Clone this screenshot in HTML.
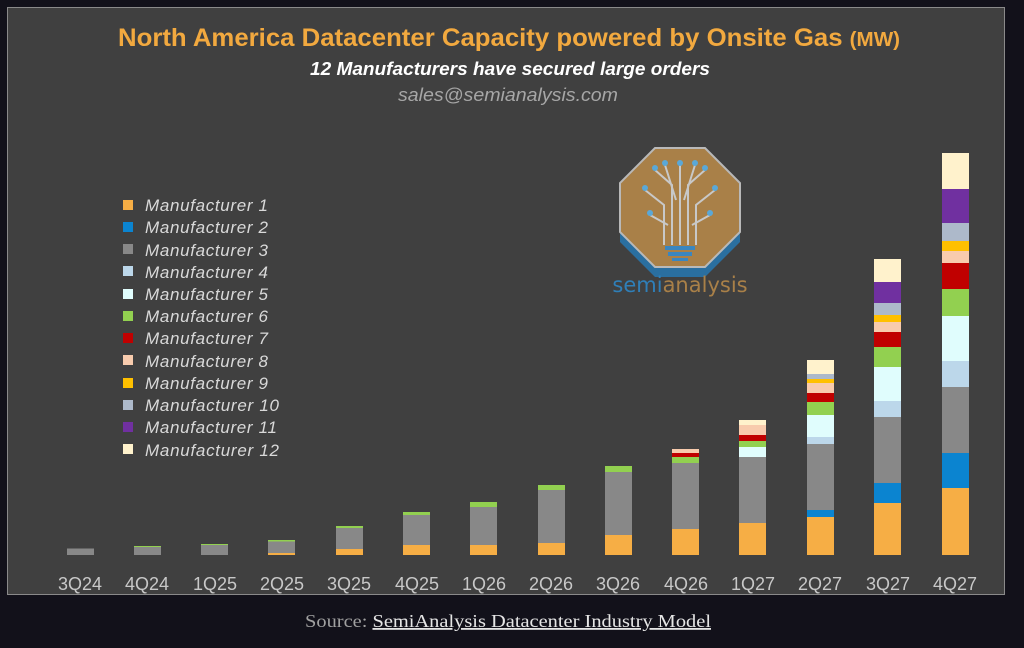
<!DOCTYPE html>
<html><head><meta charset="utf-8"><style>
body{margin:0;background:#12111a;width:1024px;height:643px;overflow:hidden;font-family:"Liberation Sans",sans-serif}
</style></head><body>
<svg width="1024" height="643" xmlns="http://www.w3.org/2000/svg">
<rect x="0" y="0" width="1024" height="643" fill="#12111a"/>
<rect x="7.5" y="7.5" width="997" height="587" fill="#404040" stroke="#8a8a8a" stroke-width="1"/>
<text x="118" y="46" textLength="782" lengthAdjust="spacingAndGlyphs" font-size="25" font-weight="bold" fill="#f2a93f">North America Datacenter Capacity powered by Onsite Gas <tspan font-size="20">(MW)</tspan></text>
<text x="310" y="75" textLength="400" lengthAdjust="spacingAndGlyphs" font-size="18" font-weight="bold" font-style="italic" fill="#ffffff">12 Manufacturers have secured large orders</text>
<text x="398" y="101" textLength="220" lengthAdjust="spacingAndGlyphs" font-size="18" font-style="italic" fill="#a6a6a6">sales@semianalysis.com</text>
<g>
<polygon points="655,155 705,155 740,190 740,242 705,277 655,277 620,242 620,190" fill="#2a6fa0"/>
<polygon points="655,148 705,148 740,183 740,232 705,267 655,267 620,232 620,183" fill="#a98048" stroke="#b9b9b9" stroke-width="2"/>
<g stroke="#c8c8c8" stroke-width="2" fill="none">
<path d="M680 245 V165 M672 245 V185 L655 170 M688 245 V185 L705 170 M664 245 V205 L645 190 M696 245 V205 L715 190 M668 225 L650 215 M692 225 L710 215 M676 200 L665 165 M684 200 L695 165"/>
</g>
<g fill="#5aa8d8"><circle cx="680" cy="163" r="3"/><circle cx="655" cy="168" r="3"/><circle cx="705" cy="168" r="3"/><circle cx="645" cy="188" r="3"/><circle cx="715" cy="188" r="3"/><circle cx="650" cy="213" r="3"/><circle cx="710" cy="213" r="3"/><circle cx="665" cy="163" r="3"/><circle cx="695" cy="163" r="3"/></g>
<rect x="665" y="246" width="30" height="4" fill="#3a86c0"/><rect x="668" y="252" width="24" height="4" fill="#3a86c0"/><rect x="672" y="258" width="16" height="3" fill="#3a86c0"/>
<text x="680" y="292" text-anchor="middle" font-size="21" font-family="DejaVu Sans, sans-serif" fill="#a98048"><tspan fill="#2f7fb8">semi</tspan>analysis</text>
</g>
<g font-size="17" font-style="italic" fill="#d9d9d9" lengthAdjust="spacingAndGlyphs">
<rect x="123" y="200" width="10" height="10" fill="#f6ae45"/><text x="145" y="211" textLength="123">Manufacturer 1</text>
<rect x="123" y="222" width="10" height="10" fill="#0b84d0"/><text x="145" y="233" textLength="123">Manufacturer 2</text>
<rect x="123" y="244" width="10" height="10" fill="#888888"/><text x="145" y="256" textLength="123">Manufacturer 3</text>
<rect x="123" y="266" width="10" height="10" fill="#bcd7ea"/><text x="145" y="278" textLength="123">Manufacturer 4</text>
<rect x="123" y="289" width="10" height="10" fill="#e0fdfd"/><text x="145" y="300" textLength="123">Manufacturer 5</text>
<rect x="123" y="311" width="10" height="10" fill="#92d050"/><text x="145" y="322" textLength="123">Manufacturer 6</text>
<rect x="123" y="333" width="10" height="10" fill="#c00000"/><text x="145" y="344" textLength="123">Manufacturer 7</text>
<rect x="123" y="355" width="10" height="10" fill="#f8cbad"/><text x="145" y="367" textLength="123">Manufacturer 8</text>
<rect x="123" y="378" width="10" height="10" fill="#ffc000"/><text x="145" y="389" textLength="123">Manufacturer 9</text>
<rect x="123" y="400" width="10" height="10" fill="#adb9ca"/><text x="145" y="411" textLength="134">Manufacturer 10</text>
<rect x="123" y="422" width="10" height="10" fill="#7030a0"/><text x="145" y="433" textLength="132">Manufacturer 11</text>
<rect x="123" y="444" width="10" height="10" fill="#fff2cc"/><text x="145" y="456" textLength="134">Manufacturer 12</text>
</g>
<g>
<rect x="67" y="548.5" width="27" height="6.5" fill="#888"/>
<rect x="134" y="546" width="27" height="9" fill="#888"/><rect x="134" y="546" width="27" height="1" fill="#92d050"/>
<rect x="201" y="544" width="27" height="11" fill="#888"/><rect x="201" y="544" width="27" height="1" fill="#92d050"/>
<rect x="268" y="540" width="27" height="15" fill="#888"/><rect x="268" y="540" width="27" height="1.5" fill="#92d050"/><rect x="268" y="553" width="27" height="2" fill="#f6ae45"/>
<rect x="336" y="526" width="27" height="29" fill="#888"/><rect x="336" y="526" width="27" height="2" fill="#92d050"/><rect x="336" y="549" width="27" height="6" fill="#f6ae45"/>
<rect x="403" y="512" width="27" height="43" fill="#888"/><rect x="403" y="512" width="27" height="3" fill="#92d050"/><rect x="403" y="545" width="27" height="10" fill="#f6ae45"/>
<rect x="470" y="502" width="27" height="53" fill="#888"/><rect x="470" y="502" width="27" height="5" fill="#92d050"/><rect x="470" y="545" width="27" height="10" fill="#f6ae45"/>
<rect x="538" y="485" width="27" height="70" fill="#888"/><rect x="538" y="485" width="27" height="5" fill="#92d050"/><rect x="538" y="543" width="27" height="12" fill="#f6ae45"/>
<rect x="605" y="466" width="27" height="89" fill="#888"/><rect x="605" y="466" width="27" height="6" fill="#92d050"/><rect x="605" y="535" width="27" height="20" fill="#f6ae45"/>
<rect x="672" y="449" width="27" height="106" fill="#888"/><rect x="672" y="449" width="27" height="4" fill="#f8cbad"/><rect x="672" y="453" width="27" height="4" fill="#c00000"/><rect x="672" y="457" width="27" height="6" fill="#92d050"/><rect x="672" y="529" width="27" height="26" fill="#f6ae45"/>
<g transform="translate(739,0)">
<rect y="420" width="27" height="5" fill="#fff2cc"/><rect y="425" width="27" height="10" fill="#f8cbad"/><rect y="435" width="27" height="6" fill="#c00000"/><rect y="441" width="27" height="6" fill="#92d050"/><rect y="447" width="27" height="10" fill="#e0fdfd"/><rect y="457" width="27" height="66" fill="#888"/><rect y="523" width="27" height="32" fill="#f6ae45"/>
</g>
<g transform="translate(807,0)">
<rect y="360" width="27" height="14" fill="#fff2cc"/><rect y="374" width="27" height="5" fill="#adb9ca"/><rect y="379" width="27" height="4" fill="#ffc000"/><rect y="383" width="27" height="10" fill="#f8cbad"/><rect y="393" width="27" height="9" fill="#c00000"/><rect y="402" width="27" height="13" fill="#92d050"/><rect y="415" width="27" height="22" fill="#e0fdfd"/><rect y="437" width="27" height="7" fill="#bcd7ea"/><rect y="444" width="27" height="66" fill="#888"/><rect y="510" width="27" height="7" fill="#0b84d0"/><rect y="517" width="27" height="38" fill="#f6ae45"/>
</g>
<g transform="translate(874,0)">
<rect y="259" width="27" height="23" fill="#fff2cc"/><rect y="282" width="27" height="21" fill="#7030a0"/><rect y="303" width="27" height="12" fill="#adb9ca"/><rect y="315" width="27" height="7" fill="#ffc000"/><rect y="322" width="27" height="10" fill="#f8cbad"/><rect y="332" width="27" height="15" fill="#c00000"/><rect y="347" width="27" height="20" fill="#92d050"/><rect y="367" width="27" height="34" fill="#e0fdfd"/><rect y="401" width="27" height="16" fill="#bcd7ea"/><rect y="417" width="27" height="66" fill="#888"/><rect y="483" width="27" height="20" fill="#0b84d0"/><rect y="503" width="27" height="52" fill="#f6ae45"/>
</g>
<g transform="translate(942,0)">
<rect y="153" width="27" height="36" fill="#fff2cc"/><rect y="189" width="27" height="34" fill="#7030a0"/><rect y="223" width="27" height="18" fill="#adb9ca"/><rect y="241" width="27" height="10" fill="#ffc000"/><rect y="251" width="27" height="12" fill="#f8cbad"/><rect y="263" width="27" height="26" fill="#c00000"/><rect y="289" width="27" height="27" fill="#92d050"/><rect y="316" width="27" height="45" fill="#e0fdfd"/><rect y="361" width="27" height="26" fill="#bcd7ea"/><rect y="387" width="27" height="66" fill="#888"/><rect y="453" width="27" height="35" fill="#0b84d0"/><rect y="488" width="27" height="67" fill="#f6ae45"/>
</g>
</g>
<g font-size="18" fill="#c8c8c8" text-anchor="middle">
<text x="80" y="590">3Q24</text><text x="147" y="590">4Q24</text><text x="215" y="590">1Q25</text><text x="282" y="590">2Q25</text><text x="349" y="590">3Q25</text><text x="417" y="590">4Q25</text><text x="484" y="590">1Q26</text><text x="551" y="590">2Q26</text><text x="618" y="590">3Q26</text><text x="686" y="590">4Q26</text><text x="753" y="590">1Q27</text><text x="820" y="590">2Q27</text><text x="888" y="590">3Q27</text><text x="955" y="590">4Q27</text>
</g>
<text x="305" y="627" textLength="406" lengthAdjust="spacingAndGlyphs" font-size="18" font-family="Liberation Serif, serif" fill="#a0a0a0">Source: <tspan fill="#e6e6e6" text-decoration="underline">SemiAnalysis Datacenter Industry Model</tspan></text>
</svg>
</body></html>
